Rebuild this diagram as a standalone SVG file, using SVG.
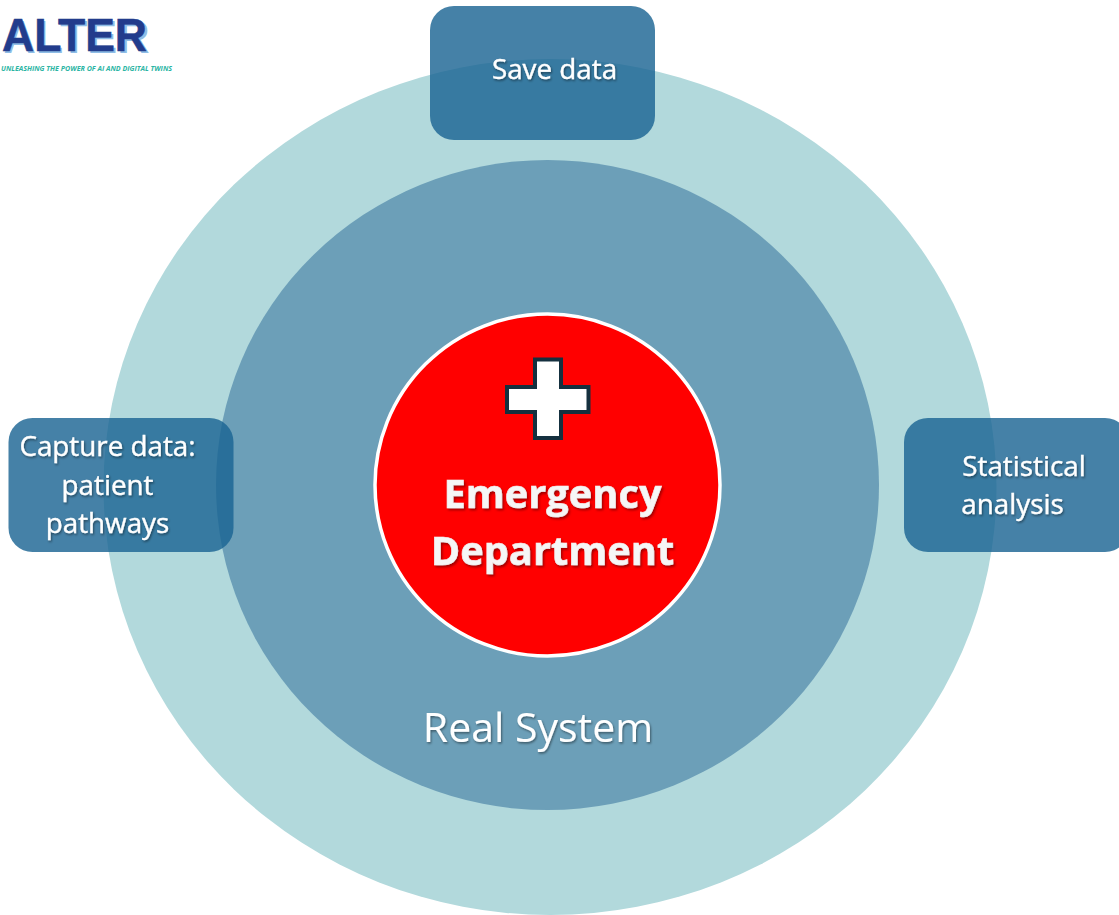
<svg xmlns="http://www.w3.org/2000/svg" width="1119" height="915" viewBox="0 0 1119 915">
<defs>
<filter id="ts" x="-10%" y="-20%" width="120%" height="140%"><feDropShadow dx="1" dy="1.500" stdDeviation="1" flood-color="#000" flood-opacity="0.45"/></filter>
<filter id="ts2" x="-10%" y="-20%" width="120%" height="140%"><feDropShadow dx="1.500" dy="2" stdDeviation="1.200" flood-color="#7a0000" flood-opacity="0.7"/></filter>
</defs>
<style>
text{font-family:"Open Sans","Noto Sans","Liberation Sans",sans-serif}
.box{fill:#1a6492;fill-opacity:.81}
.lbl{font-size:27.800px;fill:#fff;stroke:#fff;stroke-width:.35px;text-anchor:middle;filter:url(#ts)}
.ed{font-size:39.800px;font-weight:700;fill:#f6f6f6;stroke:#f0f0f0;stroke-width:.6px;text-anchor:middle;filter:url(#ts2)}
</style>
<rect width="1119" height="915" fill="#fff"/>
<g id="outer-ring"><ellipse cx="550" cy="487" rx="446.500" ry="428" fill="#b2d9dc"/></g>
<g id="real-system">
<ellipse cx="547.500" cy="485" rx="331.500" ry="325" fill="#6c9fb8"/>
<text x="538" y="742" font-size="41" fill="#fff" text-anchor="middle" filter="url(#ts)">Real System</text>
</g>
<g id="emergency-department">
<ellipse cx="547.500" cy="485" rx="172.500" ry="171" fill="#ff0000" stroke="#fff" stroke-width="3.500"/>
<path id="cross" d="M535 359.500H561V387H588.500V412H561V438H535V412H507V387H535Z" fill="#fff" stroke="#15303f" stroke-width="4"/>
<text class="ed" x="552.500" y="508">Emergency</text>
<text class="ed" x="552.500" y="565">Department</text>
</g>
<g id="save-data">
<rect class="box" x="430" y="6" width="225" height="134" rx="24"/>
<text class="lbl" x="554.500" y="79">Save data</text>
</g>
<g id="capture-data">
<rect class="box" x="8.500" y="418" width="225" height="134" rx="24"/>
<text class="lbl" x="107.500" y="456">Capture data:</text>
<text class="lbl" x="107.500" y="495">patient</text>
<text class="lbl" x="107.500" y="533">pathways</text>
</g>
<g id="statistical-analysis">
<rect class="box" x="904" y="418" width="225" height="134" rx="24"/>
<text class="lbl" x="1024" y="476">Statistical</text>
<text class="lbl" x="1012.500" y="514">analysis</text>
</g>
<g id="logo">
<text x="3.500" y="52.500" font-size="46" font-weight="700" fill="#8fbde6" style="font-family:'Liberation Sans',sans-serif" textLength="146" lengthAdjust="spacingAndGlyphs">ALTER</text>
<text x="2" y="51" font-size="46" font-weight="700" fill="#223c8c" stroke="#223c8c" stroke-width=".6" style="font-family:'Liberation Sans',sans-serif" textLength="145" lengthAdjust="spacingAndGlyphs">ALTER</text>
<text x="1" y="70.500" font-size="7.500" font-weight="700" font-style="italic" fill="#2bb5a4" textLength="171" lengthAdjust="spacingAndGlyphs">UNLEASHING THE POWER OF AI AND DIGITAL TWINS</text>
</g>
<g id="connectors"></g>
</svg>
